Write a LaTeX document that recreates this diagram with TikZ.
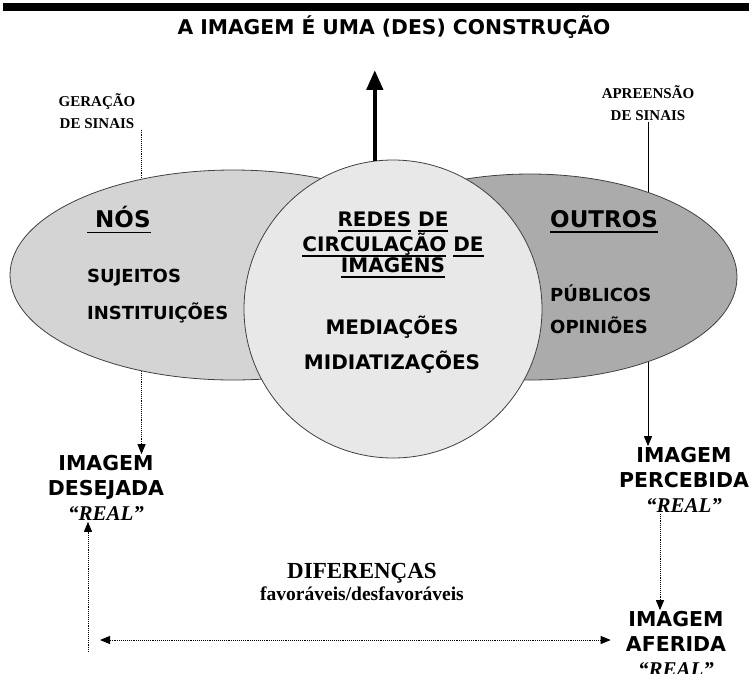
\documentclass[tikz,border=0pt]{standalone}
\usepackage{fontspec}
\usetikzlibrary{shapes.geometric, positioning, arrows.meta}
\newfontfamily\versans{DejaVu Sans Bold}
\newfontfamily\timesr{Liberation Serif Bold}
\newfontfamily\timesi{Liberation Serif Bold Italic}
\newsavebox{\ulbox}
\newcommand{\ulword}[1]{\leavevmode\sbox{\ulbox}{#1}\rlap{\raisebox{-5.5pt}{\rule{\wd\ulbox}{1.8pt}}}\usebox{\ulbox}}
\definecolor{nosgray}{HTML}{D4D4D4}
\definecolor{redesgray}{HTML}{E8E8E8}
\definecolor{outrosgray}{HTML}{ABABAB}
\newcommand{\realtxt}{{\timesi\fontsize{21}{25}\selectfont “REAL”}}

\tikzset{
  bigsans/.style={font=\versans\fontsize{20.5}{25}\selectfont, align=center, inner sep=1pt},
  circsans/.style={font=\versans\fontsize{20}{21}\selectfont, align=center, inner sep=1pt},
  headsans/.style={font=\versans\fontsize{23}{26}\selectfont, inner sep=0pt},
  itemsans/.style={font=\versans\fontsize{18}{20}\selectfont, inner sep=0pt},
  serifnote/.style={font=\timesr\fontsize{15}{22}\selectfont, align=center, inner sep=1pt},
  blob/.style={ellipse, draw=black!75, line width=0.8pt, inner sep=0pt},
  dotline/.style={densely dotted, line width=0.9pt},
  tip/.style={-{Triangle[length=10pt,width=8pt]}},
}

\begin{document}
\begin{tikzpicture}[x=1pt, y=-1pt]
   \useasboundingbox (0,0) rectangle (749,673);
   \fill[black] (3,3) rectangle (749,11);

   % title and signal labels
   \node[font=\versans\fontsize{20.3}{24}\selectfont] (title) at (394,27) {A IMAGEM É UMA (DES) CONSTRUÇÃO};
   \node[serifnote] (gera) at (97,111) {GERAÇÃO\\DE SINAIS};
   \node[serifnote] (apre) at (648,103) {APREENSÃO\\DE SINAIS};

   % images
   \node[bigsans] (deseja) at (106,488) {IMAGEM\\DESEJADA\\\realtxt};
   \node[bigsans] (perceb) at (684,480) {IMAGEM\\PERCEBIDA\\\realtxt};
   \node[bigsans] (aferid) at (676,644) {IMAGEM\\AFERIDA\\\realtxt};
   \node[font=\timesr\fontsize{23}{24}\selectfont, inner sep=1pt] (difer) at (362,573) {DIFERENÇAS};
   \node[font=\timesr\fontsize{19.5}{20}\selectfont, inner sep=1pt] (favor) [below=1pt of difer] {favoráveis/desfavoráveis};

   % lines running behind the shapes
   \draw[dotline, tip] ([xshift=5pt]gera.south east) -- ([xshift=5pt]gera.south east |- deseja.north);
   \draw[line width=0.9pt, tip] (apre.south) -- (apre.south |- perceb.north);

   % shapes
   \node[blob, fill=nosgray, minimum width=446pt, minimum height=210pt] (nos) at (233,275) {};
   \node[blob, fill=outrosgray, minimum width=414pt, minimum height=206pt] (outros) at (530,277) {};
   \node[circle, draw=black!75, line width=0.8pt, fill=redesgray, minimum size=298pt, inner sep=0pt] (redes) at (393,309) {};

   \draw[line width=4.5pt, -{Triangle[length=20pt,width=16pt]}, shorten >=28pt] (redes.97) -- (redes.97 |- title.south);

   % texts inside
   \node[headsans, anchor=west] (nostxt) at (87,220) {\ulword{\ NÓS}};
   \node[itemsans, anchor=west] (suj) at (87,278) {SUJEITOS};
   \node[itemsans, below=35pt of suj.west, anchor=west] (inst) {INSTITUIÇÕES};
   \node[headsans, anchor=west] (outtxt) at (550,222) {\ulword{OUTROS}};
   \node[itemsans, anchor=west] (publ) at (550,293) {PÚBLICOS};
   \node[itemsans, below=32pt of publ.west, anchor=west] (opin) {OPINIÕES};
   \node[circsans] (redtxt) at (393,245) {\ulword{REDES} \ulword{DE}\\\ulword{CIRCULAÇÃO} \ulword{DE}\\\ulword{IMAGENS}};
   \node[circsans] (medi) at (392,327) {MEDIAÇÕES};
   \node[circsans, below=35pt of medi.center, anchor=center] (midi) {MIDIATIZAÇÕES};

   % lower connectors
   \coordinate (foot) at (88,652);
   \coordinate (difl) at (100,640);
   \draw[dotline, tip] (foot) -- (foot |- deseja.south);
   \draw[dotline, tip] ([xshift=-24pt]perceb.south) -- ([xshift=-24pt]perceb.south |- aferid.north);
   \draw[dotline, {Triangle[length=10pt,width=8pt]}-{Triangle[length=10pt,width=8pt]}, shorten >=14pt] (difl) -- (difl -| aferid.west);
\end{tikzpicture}
\end{document}
